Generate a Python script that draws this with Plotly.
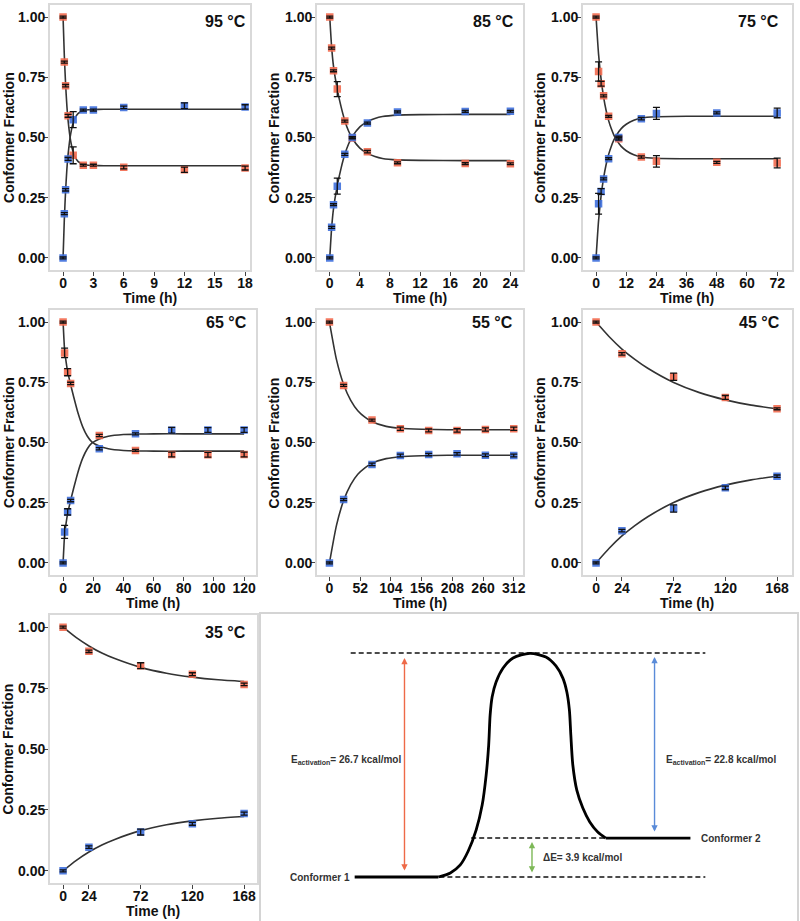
import plotly.graph_objects as go

W, H = 800, 921

# ---------------- data ----------------
# 95 °C
t95 = [0, 0.125, 0.25, 0.5, 1, 2, 3, 6, 12, 18]
c1_95 = [1.00, 0.813, 0.715, 0.590, 0.426, 0.385, 0.385, 0.376, 0.366, 0.373]
c1e_95 = [0.004, 0.004, 0.005, 0.006, 0.035, 0.004, 0.004, 0.006, 0.011, 0.008]
c2_95 = [0.00, 0.184, 0.283, 0.411, 0.574, 0.614, 0.614, 0.625, 0.632, 0.627]
c2e_95 = [0.004, 0.004, 0.005, 0.006, 0.033, 0.004, 0.004, 0.005, 0.012, 0.009]
tf95 = [0, 0.125, 0.25, 0.375, 0.5, 0.75, 1, 1.25, 1.5, 2, 2.5, 3, 4, 6, 12, 18]
f1_95 = [1.0, 0.840, 0.722, 0.633, 0.569, 0.486, 0.439, 0.414, 0.400, 0.388, 0.385, 0.384, 0.383, 0.383, 0.383, 0.383]
f2_95 = [0.0, 0.160, 0.278, 0.367, 0.431, 0.514, 0.561, 0.586, 0.600, 0.612, 0.615, 0.616, 0.617, 0.617, 0.617, 0.617]

# 85 °C
t85 = [0, 0.25, 0.5, 1, 2, 3, 5, 9, 18, 24]
c1_85 = [1.00, 0.871, 0.777, 0.701, 0.568, 0.498, 0.441, 0.395, 0.392, 0.391]
c1e_85 = [0.004, 0.004, 0.004, 0.031, 0.004, 0.004, 0.005, 0.004, 0.004, 0.004]
c2_85 = [0.00, 0.127, 0.221, 0.298, 0.430, 0.500, 0.560, 0.606, 0.608, 0.609]
c2e_85 = [0.004, 0.004, 0.004, 0.033, 0.004, 0.004, 0.004, 0.004, 0.004, 0.004]
tf85 = [0, 0.25, 0.5, 1, 1.5, 2, 2.5, 3, 4, 5, 6, 7, 9, 12, 18, 24]
f1_85 = [1.0, 0.875, 0.795, 0.700, 0.628, 0.570, 0.527, 0.496, 0.456, 0.434, 0.421, 0.413, 0.407, 0.405, 0.404, 0.404]
f2_85 = [0.0, 0.125, 0.205, 0.300, 0.372, 0.430, 0.473, 0.504, 0.544, 0.566, 0.579, 0.587, 0.593, 0.595, 0.596, 0.596]

# 75 °C
t75 = [0, 1, 2, 3, 5, 9, 18, 24, 48, 72]
c1_75 = [1.00, 0.774, 0.723, 0.673, 0.588, 0.495, 0.419, 0.401, 0.397, 0.394]
c1e_75 = [0.004, 0.040, 0.010, 0.004, 0.004, 0.006, 0.005, 0.024, 0.004, 0.020]
c2_75 = [0.00, 0.225, 0.276, 0.328, 0.412, 0.500, 0.578, 0.600, 0.602, 0.602]
c2e_75 = [0.004, 0.043, 0.012, 0.004, 0.004, 0.006, 0.005, 0.025, 0.004, 0.020]
tf75 = [0, 1, 2, 3, 4, 5, 6, 7, 8, 10, 12, 15, 18, 24, 36, 48, 72]
f1_75 = [1.0, 0.845, 0.742, 0.668, 0.612, 0.570, 0.538, 0.512, 0.492, 0.463, 0.445, 0.428, 0.419, 0.414, 0.412, 0.412, 0.412]
f2_75 = [0.0, 0.155, 0.258, 0.332, 0.388, 0.430, 0.462, 0.488, 0.508, 0.537, 0.555, 0.572, 0.581, 0.586, 0.588, 0.588, 0.588]

# 65 °C
t65 = [0, 1, 3, 5, 24, 48, 72, 96, 120]
c1_65 = [1.00, 0.872, 0.792, 0.745, 0.529, 0.467, 0.450, 0.449, 0.450]
c1e_65 = [0.004, 0.020, 0.015, 0.005, 0.005, 0.004, 0.010, 0.010, 0.010]
c2_65 = [0.00, 0.129, 0.212, 0.259, 0.474, 0.536, 0.551, 0.552, 0.552]
c2e_65 = [0.004, 0.027, 0.013, 0.005, 0.005, 0.004, 0.012, 0.010, 0.010]
tf65 = [0, 1, 2, 3, 5, 7, 10, 13, 16, 19, 24, 30, 40, 50, 60, 80, 120]
f1_65 = [1.0, 0.885, 0.835, 0.795, 0.740, 0.690, 0.620, 0.565, 0.527, 0.503, 0.485, 0.474, 0.467, 0.465, 0.464, 0.464, 0.464]
f2_65 = [0.0, 0.115, 0.165, 0.205, 0.260, 0.310, 0.380, 0.435, 0.473, 0.497, 0.515, 0.526, 0.533, 0.535, 0.536, 0.536, 0.536]

# 55 °C
t55 = [0, 24, 72, 120, 168, 216, 264, 312]
c1_55 = [1.00, 0.737, 0.593, 0.557, 0.550, 0.550, 0.554, 0.557]
c1e_55 = [0.004, 0.004, 0.004, 0.007, 0.006, 0.007, 0.007, 0.007]
c2_55 = [0.00, 0.263, 0.409, 0.446, 0.450, 0.453, 0.447, 0.446]
c2e_55 = [0.004, 0.004, 0.005, 0.006, 0.005, 0.005, 0.006, 0.006]
tf55 = [0, 12, 24, 36, 48, 60, 72, 96, 120, 156, 200, 260, 312]
f1_55 = [1.0, 0.843, 0.741, 0.675, 0.632, 0.605, 0.586, 0.567, 0.559, 0.555, 0.553, 0.553, 0.553]
f2_55 = [0.0, 0.157, 0.259, 0.325, 0.368, 0.395, 0.414, 0.433, 0.441, 0.445, 0.447, 0.447, 0.447]

# 45 °C
t45 = [0, 24, 72, 120, 168]
c1_45 = [1.00, 0.868, 0.773, 0.687, 0.640]
c1e_45 = [0.004, 0.005, 0.015, 0.008, 0.004]
c2_45 = [0.00, 0.134, 0.226, 0.312, 0.360]
c2e_45 = [0.004, 0.005, 0.015, 0.007, 0.005]
tf45 = [0, 12, 24, 36, 48, 72, 96, 120, 144, 168]
f1_45 = [1.0, 0.940, 0.888, 0.845, 0.808, 0.749, 0.707, 0.677, 0.655, 0.640]
f2_45 = [0.0, 0.060, 0.112, 0.155, 0.192, 0.251, 0.293, 0.323, 0.345, 0.360]

# 35 °C
t35 = [0, 24, 72, 120, 168]
c1_35 = [1.00, 0.901, 0.842, 0.807, 0.765]
c1e_35 = [0.004, 0.005, 0.012, 0.006, 0.005]
c2_35 = [0.00, 0.097, 0.159, 0.193, 0.235]
c2e_35 = [0.004, 0.005, 0.012, 0.006, 0.006]
tf35 = [0, 12, 24, 36, 48, 72, 96, 120, 144, 168]
f1_35 = [1.0, 0.958, 0.923, 0.894, 0.871, 0.835, 0.811, 0.795, 0.784, 0.777]
f2_35 = [0.0, 0.042, 0.077, 0.106, 0.129, 0.165, 0.189, 0.205, 0.216, 0.223]

temps = ["95 °C", "85 °C", "75 °C", "65 °C", "55 °C", "45 °C", "35 °C"]
tick_sets = [
    [0, 3, 6, 9, 12, 15, 18],
    [0, 4, 8, 12, 16, 20, 24],
    [0, 12, 24, 36, 48, 60, 72],
    [0, 20, 40, 60, 80, 100, 120],
    [0, 52, 104, 156, 208, 260, 312],
    [0, 24, 72, 120, 168],
    [0, 24, 72, 120, 168],
]
y_ticks = [0, 0.25, 0.5, 0.75, 1.0]

# energy diagram (schematic): reaction coordinate 0..1, relative height 0..1
level_c1 = 0.0
level_c2 = 0.174
level_ts = 1.0
barrier_x = [0.3333, 0.3556, 0.3741, 0.3889, 0.4037, 0.4148, 0.4222, 0.4269, 0.4296, 0.4333, 0.4407,
             0.4537, 0.4722, 0.5037, 0.5333, 0.5519, 0.5648, 0.5722, 0.5769, 0.5796, 0.5833, 0.5907,
             0.6019, 0.6148, 0.6296, 0.6444]
barrier_y = [0.0, 0.018, 0.054, 0.116, 0.210, 0.321, 0.455, 0.589, 0.723, 0.804, 0.871,
             0.933, 0.978, 0.998, 0.982, 0.942, 0.888, 0.826, 0.746, 0.634, 0.500, 0.388,
             0.308, 0.246, 0.201, 0.174]
ea_forward = "26.7"
ea_reverse = "22.8"
delta_e = "3.9"

# ---------------- layout geometry (pixels) ----------------
panels = [
    dict(t=t95, c1=c1_95, c1e=c1e_95, c2=c2_95, c2e=c2e_95, tf=tf95, f1=f1_95, f2=f2_95,
         px=(50, 251), py=(5, 270), xr=[-1.31, 18.49], lab=(249, 21), ytx=8.5),
    dict(t=t85, c1=c1_85, c1e=c1e_85, c2=c2_85, c2e=c2e_85, tf=tf85, f1=f1_85, f2=f2_85,
         px=(318, 525), py=(5, 270), xr=[-1.72, 25.68], lab=(518, 21), ytx=275),
    dict(t=t75, c1=c1_75, c1e=c1e_75, c2=c2_75, c2e=c2e_75, tf=tf75, f1=f1_75, f2=f2_75,
         px=(585, 795), py=(5, 270), xr=[-5.27, 77.9], lab=(784, 21), ytx=541.7),
    dict(t=t65, c1=c1_65, c1e=c1e_65, c2=c2_65, c2e=c2e_65, tf=tf65, f1=f1_65, f2=f2_65,
         px=(50, 257), py=(310, 575), xr=[-8.8, 127.9], lab=(250, 322.5), ytx=8.5),
    dict(t=t55, c1=c1_55, c1e=c1e_55, c2=c2_55, c2e=c2e_55, tf=tf55, f1=f1_55, f2=f2_55,
         px=(318, 525), py=(310, 575), xr=[-21.4, 327.7], lab=(517, 322.5), ytx=275),
    dict(t=t45, c1=c1_45, c1e=c1e_45, c2=c2_45, c2e=c2e_45, tf=tf45, f1=f1_45, f2=f2_45,
         px=(585, 795), py=(310, 575), xr=[-12.3, 181.9], lab=(785, 322.5), ytx=541.7),
    dict(t=t35, c1=c1_35, c1e=c1e_35, c2=c2_35, c2e=c2e_35, tf=tf35, f1=f1_35, f2=f2_35,
         px=(50, 258), py=(615, 883), xr=[-12.3, 180.0], lab=(249, 632), ytx=8.5),
]

RED = "#F26A4F"
BLUE = "#3F70DD"
FIT = "#333333"
FRAME = "#D9D9D9"
FONT = "Liberation Sans"

fig = go.Figure()
annotations = []
layout = {}

def xd(p):
    return p / W

def yd(p):
    return 1 - p / H

for i, P in enumerate(panels):
    n = i + 1
    xa = "x" if n == 1 else f"x{n}"
    ya = "y" if n == 1 else f"y{n}"
    xkey = "xaxis" if n == 1 else f"xaxis{n}"
    ykey = "yaxis" if n == 1 else f"yaxis{n}"
    # fit curves
    for f in (P["f1"], P["f2"]):
        fig.add_trace(go.Scatter(x=P["tf"], y=f, mode="lines", xaxis=xa, yaxis=ya,
                                 line=dict(color=FIT, width=1.6, shape="spline", smoothing=0.6),
                                 hoverinfo="skip", showlegend=False))
    # markers
    for vals, col in ((P["c1"], RED), (P["c2"], BLUE)):
        fig.add_trace(go.Scatter(x=P["t"], y=vals, mode="markers", xaxis=xa, yaxis=ya,
                                 marker=dict(symbol="square", size=7.5, color=col, opacity=0.9,
                                             line=dict(width=0)),
                                 showlegend=False))
    # error bars on top
    for vals, err in ((P["c1"], P["c1e"]), (P["c2"], P["c2e"])):
        fig.add_trace(go.Scatter(x=P["t"], y=vals, mode="markers", xaxis=xa, yaxis=ya,
                                 marker=dict(size=1, opacity=0),
                                 error_y=dict(type="data", array=err, visible=True,
                                              color="#111111", thickness=1.3, width=3.5),
                                 hoverinfo="skip", showlegend=False))
    tv = tick_sets[i]
    layout[xkey] = dict(domain=[xd(P["px"][0]), xd(P["px"][1])], range=P["xr"], anchor=ya,
                        tickmode="array", tickvals=tv, ticktext=[str(v) for v in tv],
                        showgrid=False, zeroline=False, showline=True, mirror=True,
                        linecolor=FRAME, linewidth=1.5, ticks="outside", ticklen=4,
                        tickcolor="#444444", tickwidth=1, ticklabelstandoff=-5,
                        tickfont=dict(family=FONT, size=14, color="#111111", weight="bold"))
    layout[ykey] = dict(domain=[yd(P["py"][1]), yd(P["py"][0])], range=[-0.05, 1.05], anchor=xa,
                        tickmode="array", tickvals=y_ticks, ticktext=[f"{v:.2f}" for v in y_ticks],
                        showgrid=False, zeroline=False, showline=True, mirror=True,
                        linecolor=FRAME, linewidth=1.5, ticks="outside", ticklen=4,
                        tickcolor="#444444", tickwidth=1, ticklabelstandoff=-4,
                        tickfont=dict(family=FONT, size=14, color="#111111", weight="bold"))
    # temperature label
    annotations.append(dict(text=temps[i], xref="paper", yref="paper",
                            x=xd(P["lab"][0]), y=yd(P["lab"][1]), xanchor="right", yanchor="middle",
                            showarrow=False,
                            font=dict(family=FONT, size=16, color="#111111", weight="bold")))
    # axis titles
    annotations.append(dict(text="Time (h)", xref="paper", yref="paper",
                            x=xd((P["px"][0] + P["px"][1]) / 2), y=yd(P["py"][1] + 28),
                            xanchor="center", yanchor="middle", showarrow=False,
                            font=dict(family=FONT, size=14, color="#111111", weight="bold")))
    annotations.append(dict(text="Conformer Fraction", xref="paper", yref="paper", textangle=-90,
                            x=xd(P["ytx"]), y=yd((P["py"][0] + P["py"][1]) / 2),
                            xanchor="center", yanchor="middle", showarrow=False,
                            font=dict(family=FONT, size=14, color="#111111", weight="bold")))

# ---------------- energy diagram ----------------
ED_X, ED_Y = "x8", "y8"
layout["xaxis8"] = dict(domain=[261.5 / W, 1.0], range=[0.0028, 1.0], anchor="y8",
                        showgrid=False, zeroline=False, showticklabels=False, ticks="",
                        showline=True, mirror=True, linecolor="#D4D4D4", linewidth=1.5)
layout["yaxis8"] = dict(domain=[0.0, yd(613.5)], range=[-0.1964, 1.1763], anchor="x8",
                        showgrid=False, zeroline=False, showticklabels=False, ticks="",
                        showline=True, mirror=True, linecolor="#D4D4D4", linewidth=1.5)

dash_style = dict(color="#111111", width=1.6, dash="5px,3px")
for xs, lvl in (([0.1704, 0.8296], level_ts), ([0.3944, 0.6444], level_c2), ([0.3204, 0.8296], level_c1)):
    fig.add_trace(go.Scatter(x=xs, y=[lvl, lvl], mode="lines", xaxis=ED_X, yaxis=ED_Y,
                             line=dash_style, hoverinfo="skip", showlegend=False))
for xs, lvl in (([0.1778, 0.3333], level_c1), ([0.6444, 0.8019], level_c2)):
    fig.add_trace(go.Scatter(x=xs, y=[lvl, lvl], mode="lines", xaxis=ED_X, yaxis=ED_Y,
                             line=dict(color="#000000", width=2.8), hoverinfo="skip", showlegend=False))
fig.add_trace(go.Scatter(x=barrier_x, y=barrier_y, mode="lines", xaxis=ED_X, yaxis=ED_Y,
                         line=dict(color="#000000", width=2.8, shape="spline", smoothing=0.8),
                         hoverinfo="skip", showlegend=False))

for xpos, y0, y1, col in ((0.2704, 0.022, 0.978, "#EE6A48"),
                          (0.7352, 0.196, 0.982, "#5A8BD8"),
                          (0.5074, 0.013, 0.156, "#7DB857")):
    annotations.append(dict(x=xpos, y=y1, ax=xpos, ay=y0, xref=ED_X, yref=ED_Y, axref=ED_X, ayref=ED_Y,
                            text="", showarrow=True, arrowhead=2, arrowsize=0.9, arrowwidth=1.4,
                            arrowside="end+start", arrowcolor=col))

lab_font = dict(family=FONT, size=10, color="#333333", weight="bold")
for txt, xpos, ypos in ((f"E<sub>activation</sub>= {ea_forward} kcal/mol", 0.0556, 0.522),
                        (f"E<sub>activation</sub>= {ea_reverse} kcal/mol", 0.7519, 0.522),
                        (f"ΔE= {delta_e} kcal/mol", 0.524, 0.085),
                        ("Conformer 1", 0.053, level_c1),
                        ("Conformer 2", 0.8185, level_c2)):
    annotations.append(dict(text=txt, x=xpos, y=ypos, xref=ED_X, yref=ED_Y, xanchor="left",
                            yanchor="middle", showarrow=False, font=lab_font))

fig.update_layout(width=W, height=H, margin=dict(l=0, r=0, t=0, b=0),
                  paper_bgcolor="white", plot_bgcolor="white", showlegend=False,
                  annotations=annotations, **layout)

fig.write_html("out.html", config={"displayModeBar": False},
               post_script="document.body.style.margin='0';document.body.style.overflow='hidden';")
